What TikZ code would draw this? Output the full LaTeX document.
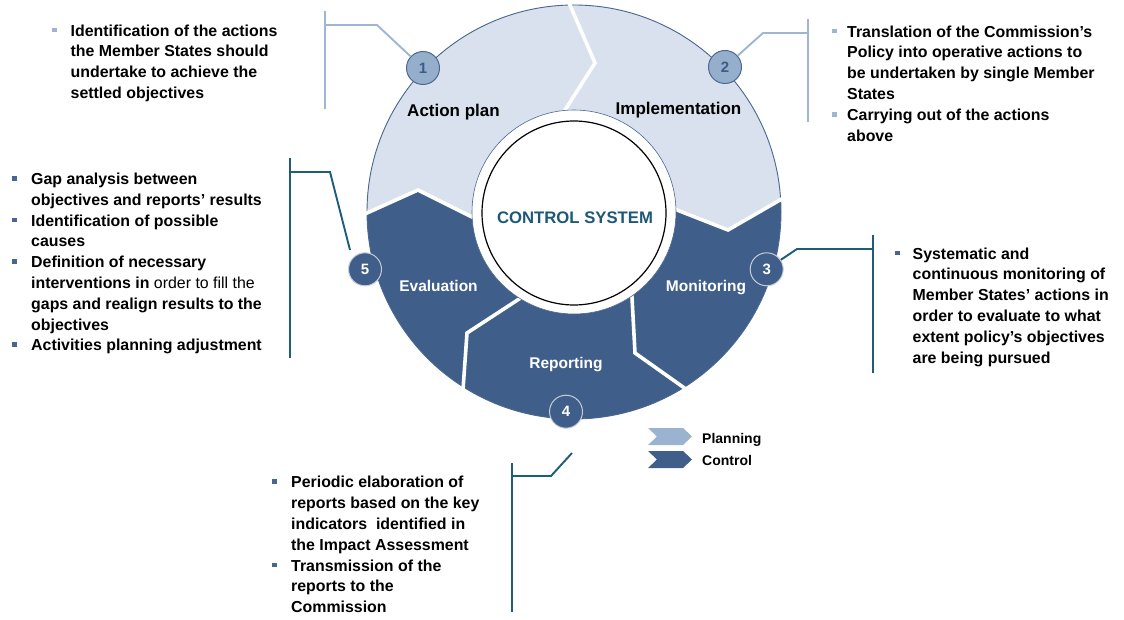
\documentclass[tikz,border=0pt]{standalone}
\usepackage{fontspec}
\setmainfont{Liberation Sans}
\usetikzlibrary{calc}
\definecolor{darkseg}{HTML}{3F5F8A}
\definecolor{lightseg}{HTML}{D8E1ED}
\definecolor{ringline}{HTML}{4A6890}
\definecolor{lightcirc}{HTML}{95AECB}
\definecolor{lightnum}{HTML}{3D5C85}
\definecolor{plink}{HTML}{9FB6D3}
\definecolor{clink}{HTML}{1F5C7C}
\definecolor{ctitle}{HTML}{1D5877}
\definecolor{pbul}{HTML}{9FB6D3}
\definecolor{cbul}{HTML}{4A6690}
\definecolor{legp}{HTML}{9AB3D0}
\definecolor{circedge}{HTML}{C5CDD8}
\newcommand{\sqb}[2]{\makebox[#2][l]{\textcolor{#1}{\raisebox{3.7pt}{\rule{4.7pt}{4.7pt}}}}}
\newcommand{\ind}[1]{\hspace*{#1}}
\tikzset{
  txt/.style={anchor=north west, inner sep=0pt, align=left, text=black,
    font=\fontsize{15.9}{20.8}\selectfont\bfseries},
  plab/.style={anchor=base, inner sep=0pt, text=black, font=\fontsize{17}{20}\selectfont\bfseries},
  clab/.style={anchor=base, inner sep=0pt, text=white, font=\fontsize{15.5}{20}\selectfont\bfseries},
  numc/.style={circle, minimum size=33pt, inner sep=0pt, line width=1pt, font=\fontsize{15}{18}\selectfont\bfseries},
  pcirc/.style={numc, fill=lightcirc, draw=ringline, text=lightnum},
  ccirc/.style={numc, fill=darkseg, draw=circedge, text=white},
  plinkst/.style={draw=plink, line width=1.9pt},
  clinkst/.style={draw=clink, line width=1.9pt},
  sep/.style={draw=white, line width=3.6pt, line join=miter},
  legtxt/.style={anchor=base west, inner sep=0pt, text=black, font=\fontsize{14}{16}\selectfont\bfseries}
}
\begin{document}
\begin{tikzpicture}[x=1pt,y=-1pt]
\useasboundingbox (0,0) rectangle (1124,620);
\coordinate (C) at (574,212);
% ring
\begin{scope}
  \clip (C) circle[radius=207pt];
  \fill[darkseg] (C) circle[radius=207pt];
  \fill[lightseg] (346.6,222.2) -- (418,190) -- (468,215) -- (493,227.5) -- (651.5,200)
     -- (677,210) -- (728,230) -- (780,200) -- (806,185) -- (806,-20) -- (340,-20) -- cycle;
\end{scope}
\draw[ringline, line width=0.9pt] (C) circle[radius=207pt];
\begin{scope}
  \clip (C) circle[radius=208.5pt];
  \draw[sep] (346.6,222.2) -- (418,190) -- (493,227.5);
  \draw[sep] (651.5,200) -- (728,230) -- (806,185);
  \draw[sep] (560,-18) -- (595,63) -- (550,133.5);
  \draw[sep] (630.5,270) -- (635,353) -- (707,404);
  \draw[sep] (539,286) -- (467,333) -- (461,418);
\end{scope}
\fill[white] (C) circle[radius=102pt];
\draw[ringline, line width=0.6pt] (C) circle[radius=102pt];
\node[circle, draw=black, fill=white, line width=1.2pt, minimum size=184pt, inner sep=0pt] (cs) at (574,213) {};
\node[anchor=base, inner sep=0pt, text=ctitle, font=\fontsize{16.7}{20}\selectfont\bfseries] (cst) at (575,223.3) {CONTROL SYSTEM};
% segment labels
\node[plab] (lap) at (453.5,117) {Action plan};
\node[plab] (lim) at (678.5,115) {Implementation};
\node[clab] (lev) at (438.5,291) {Evaluation};
\node[clab] (lmo) at (706,291) {Monitoring};
\node[clab] (lre) at (566,368.3) {Reporting};
% numbered circles
\node[pcirc] (n1) at (423,68) {1};
\node[pcirc] (n2) at (725,67) {2};
\node[ccirc] (n3) at (766.7,269.3) {3};
\node[ccirc] (n4) at (566,411.7) {4};
\node[ccirc] (n5) at (365,269.3) {5};
% connectors
\coordinate (b1t) at (325,11); \coordinate (b1b) at (325,109);
\coordinate (k1) at (377,25); \coordinate (h1) at (325,25);
\draw[plinkst] (b1t) -- (b1b);
\draw[plinkst] (n1) -- (k1) -- (h1);
\coordinate (b2t) at (808,19); \coordinate (b2b) at (808,122);
\coordinate (k2) at (763,33); \coordinate (h2) at (808,33);
\draw[plinkst] (b2t) -- (b2b);
\draw[plinkst] (n2) -- (k2) -- (h2);
\coordinate (b3t) at (873,235); \coordinate (b3b) at (873,373);
\coordinate (k3) at (797,249); \coordinate (h3) at (873,249);
\draw[clinkst] (b3t) -- (b3b);
\draw[clinkst] (n3) -- (k3) -- (h3);
\coordinate (b4t) at (512,463); \coordinate (b4b) at (512,612);
\coordinate (e4) at (572,453); \coordinate (k4) at (551,476); \coordinate (h4) at (512,476);
\draw[clinkst] (b4t) -- (b4b);
\draw[clinkst] (e4) -- (k4) -- (h4);
\coordinate (b5t) at (290,158); \coordinate (b5b) at (290,358);
\coordinate (e5) at (350,250); \coordinate (k5) at (330,172); \coordinate (h5) at (290,172);
\draw[clinkst] (b5t) -- (b5b);
\draw[clinkst] (e5) -- (k5) -- (h5);
% text blocks
\node[txt] (t1) at (52,21.4) {\strut\sqb{pbul}{18.5pt}Identification of the actions\\
\ind{18.5pt}the Member States should\\
\ind{18.5pt}undertake to achieve the\\
\ind{18.5pt}settled objectives};
\node[txt] (t2) at (832,22.4) {\strut\sqb{pbul}{15pt}Translation of the Commission’s\\
\ind{15pt}Policy into operative actions to\\
\ind{15pt}be undertaken by single Member\\
\ind{15pt}States\\
\sqb{pbul}{15pt}Carrying out of the actions\\
\ind{15pt}above};
\node[txt] (t5) at (11.7,169.7) {\strut\sqb{cbul}{19.3pt}Gap analysis between\\
\ind{19.3pt}objectives and reports’ results\\
\sqb{cbul}{19.3pt}Identification of possible\\
\ind{19.3pt}causes\\
\sqb{cbul}{19.3pt}Definition of necessary\\
\ind{19.3pt}interventions in {\mdseries order to fill the}\\
\ind{19.3pt}gaps and realign results to the\\
\ind{19.3pt}objectives\\
\sqb{cbul}{19.3pt}Activities planning adjustment};
\node[txt] (t3) at (895,244.4) {\strut\sqb{cbul}{17.5pt}Systematic and\\
\ind{17.5pt}continuous monitoring of\\
\ind{17.5pt}Member States’ actions in\\
\ind{17.5pt}order to evaluate to what\\
\ind{17.5pt}extent policy’s objectives\\
\ind{17.5pt}are being pursued};
\node[txt] (t4) at (271.7,473.1) {\strut\sqb{cbul}{19.3pt}Periodic elaboration of\\
\ind{19.3pt}reports based on the key\\
\ind{19.3pt}indicators \ identified in\\
\ind{19.3pt}the Impact Assessment\\
\sqb{cbul}{19.3pt}Transmission of the\\
\ind{19.3pt}reports to the\\
\ind{19.3pt}Commission};
% legend
\fill[legp] (648,428) -- (683,428) -- (692,436.5) -- (683,445) -- (648,445) -- (657,436.5) -- cycle;
\fill[darkseg] (648,451) -- (683,451) -- (692,459.5) -- (683,468) -- (648,468) -- (657,459.5) -- cycle;
\node[legtxt] (lp) at (702,443.3) {Planning};
\node[legtxt] (lc) at (702,465) {Control};
\end{tikzpicture}
\end{document}
